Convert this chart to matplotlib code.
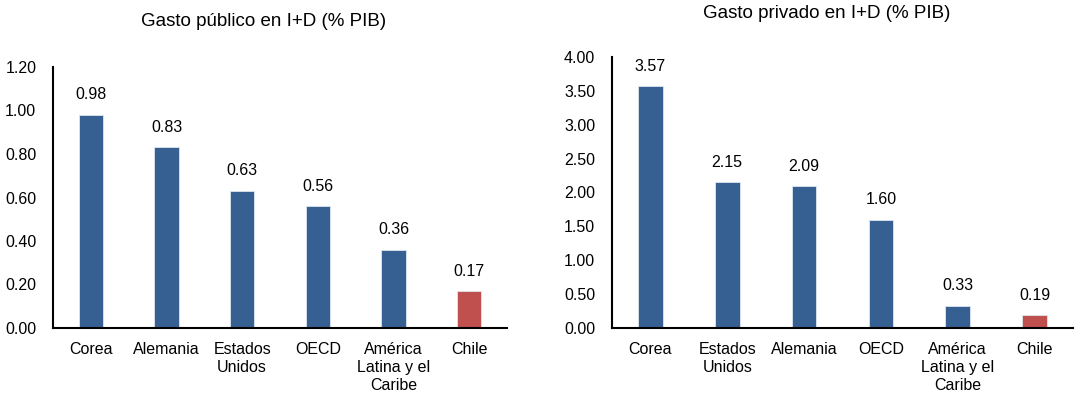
import matplotlib
matplotlib.use("Agg")
import matplotlib.pyplot as plt
from matplotlib.ticker import FixedLocator, FuncFormatter

plt.rcParams['font.family'] = ['Liberation Sans', 'DejaVu Sans']

# Gasto público en I+D (% PIB)
pub_labels = ["Corea", "Alemania", "Estados\nUnidos", "OECD", "América\nLatina y el\nCaribe", "Chile"]
pub_values = [0.98, 0.83, 0.63, 0.56, 0.36, 0.17]

# Gasto privado en I+D (% PIB)
priv_labels = ["Corea", "Estados\nUnidos", "Alemania", "OECD", "América\nLatina y el\nCaribe", "Chile"]
priv_values = [3.57, 2.15, 2.09, 1.60, 0.33, 0.19]

pub_ticks = [0.0, 0.2, 0.4, 0.6, 0.8, 1.0, 1.2]
priv_ticks = [0.0, 0.5, 1.0, 1.5, 2.0, 2.5, 3.0, 3.5, 4.0]

BLUE = "#366092"
RED = "#C0504D"
FS = 11.5
TITLE_FS = 13.5

fig = plt.figure(figsize=(10.8, 3.93), dpi=100)

ax1 = fig.add_axes([53 / 1080, 1 - 328 / 393, 454 / 1080, (328 - 67) / 393])
ax2 = fig.add_axes([612 / 1080, 1 - 328 / 393, 461 / 1080, (328 - 57) / 393])


def draw(ax, labels, values, ticks):
    x = list(range(len(values)))
    colors = [RED if lab == "Chile" else BLUE for lab in labels]
    ax.bar(x, values, width=0.32, color=colors, edgecolor="#dfe6f0", linewidth=0.6, zorder=2)
    for xi, v in zip(x, values):
        ax.annotate(f"{v:.2f}", (xi, v), xytext=(0, 9), textcoords="offset points",
                    ha="center", va="bottom", fontsize=FS)
    ax.set_xlim(-0.5, len(values) - 0.5)
    ax.set_ylim(ticks[0], ticks[-1])
    ax.yaxis.set_major_locator(FixedLocator(ticks))
    ax.yaxis.set_major_formatter(FuncFormatter(lambda v, p: f"{v:.2f}"))
    ax.set_xticks(x)
    ax.set_xticklabels(labels, fontsize=FS, linespacing=1.25)
    ax.tick_params(axis="y", length=0, pad=12, labelsize=FS)
    ax.tick_params(axis="x", length=0, pad=10)
    for s in ("top", "right"):
        ax.spines[s].set_visible(False)
    for s in ("left", "bottom"):
        ax.spines[s].set_linewidth(1.5)
        ax.spines[s].set_color("black")


draw(ax1, pub_labels, pub_values, pub_ticks)
draw(ax2, priv_labels, priv_values, priv_ticks)

fig.text(264 / 1080, 1 - 22 / 393, "Gasto público en I+D (% PIB)", ha="center", va="center", fontsize=TITLE_FS)
fig.text(827 / 1080, 1 - 13 / 393, "Gasto privado en I+D (% PIB)", ha="center", va="center", fontsize=TITLE_FS)

fig.savefig("out.png", dpi=100, facecolor="white")
